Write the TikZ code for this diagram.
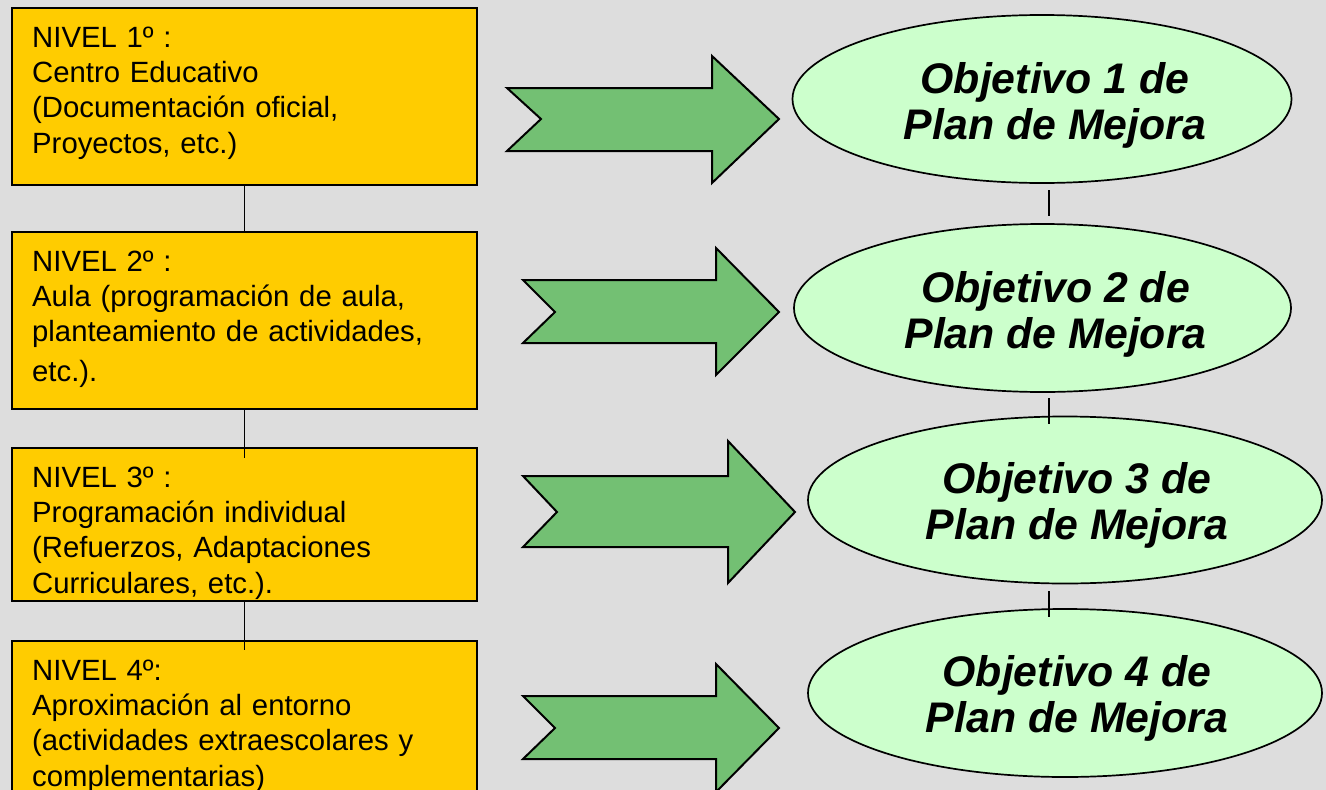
\documentclass[tikz,border=0pt]{standalone}
\usepackage{fontspec}
\setmainfont{Liberation Sans}
\usetikzlibrary{shapes.geometric,calc}
\definecolor{bgc}{RGB}{221,221,221}
\definecolor{boxc}{RGB}{255,204,0}
\definecolor{arrc}{RGB}{115,192,115}
\definecolor{ellc}{RGB}{204,255,204}
\tikzset{
  lvlbox/.style={draw=black, line width=2pt, fill=boxc, rectangle, anchor=north west, inner sep=0pt, minimum width=465pt},
  lvltext/.style={anchor=base west, inner sep=0pt, align=left, text width=440pt, font=\fontsize{29.3}{35.4}\selectfont},
  bigarrow/.style={draw=black, line width=2pt, fill=arrc, line join=miter},
  objell/.style={ellipse, draw=black, line width=1.7pt, fill=ellc, inner sep=0pt},
  objtext/.style={align=center, inner sep=0pt, font=\fontsize{42.8}{46}\selectfont\bfseries\itshape},
  conn/.style={draw=black, line width=1.5pt}
}
\begin{document}
\begin{tikzpicture}[x=1pt,y=-1pt]
\path[fill=bgc] (0,0) rectangle (1326,790);
\useasboundingbox (0,0) rectangle (1326,790);
\clip (0,0) rectangle (1326,790);

% level boxes
\node[lvlbox, minimum height=177pt] (b1) at (11,7) {};
\node[lvlbox, minimum height=177pt] (b2) at (11,231) {};
\node[lvlbox, minimum height=153pt] (b3) at (11,447) {};
\node[lvlbox, minimum height=180pt] (b4) at (11,640) {};

\node[lvltext] (t1) at (32,47) {NIVEL 1º :\\Centro Educativo\\(Documentación oficial,\\Proyectos, etc.)};
\node[lvltext] (t2) at (32,271) {NIVEL 2º :\\Aula (programación de aula,\\planteamiento de actividades,\\[4.5pt]etc.).};
\node[lvltext] (t3) at (32,487) {NIVEL 3º :\\Programación individual\\(Refuerzos, Adaptaciones\\Curriculares, etc.).};
\node[lvltext] (t4) at (32,680) {NIVEL 4º:\\Aproximación al entorno\\(actividades extraescolares y\\complementarias)};

% connectors between boxes
\coordinate (c23) at ($(b2.south)+(0,48)$);
\coordinate (c34) at ($(b3.south)+(0,48)$);
\draw[conn] (b1.south) -- (b2.north);
\draw[conn] (b2.south) -- (c23);
\draw[conn] (b3.south) -- (c34);

% big arrows
\draw[bigarrow] (507,88) -- (712,88) -- (712,56) -- (779,119) -- (712,183) -- (712,151) -- (507,151) -- (541,119) -- cycle;
\draw[bigarrow] (523,280) -- (716,280) -- (716,248) -- (779,312) -- (716,375) -- (716,343) -- (523,343) -- (555,312) -- cycle;
\draw[bigarrow] (523,476) -- (728,476) -- (728,441) -- (795,512) -- (728,583) -- (728,547) -- (523,547) -- (557,512) -- cycle;
\draw[bigarrow] (523,696) -- (716,696) -- (716,664) -- (779,728) -- (716,792) -- (716,759) -- (523,759) -- (555,728) -- cycle;

% objective ellipses
\node[objell, minimum width=499pt, minimum height=168pt] (e1) at (1042,99) {};
\node[objell, minimum width=497pt, minimum height=168pt] (e2) at (1042.5,308) {};
\node[objell, minimum width=514pt, minimum height=167pt] (e3) at (1065,500) {};
\node[objell, minimum width=514pt, minimum height=168pt] (e4) at (1065,693) {};

\node[objtext] (o1) at ($(e1.center)+(13,6)$) {Objetivo 1 de\\Plan de Mejora};
\node[objtext] (o2) at ($(e2.center)+(13,6)$) {Objetivo 2 de\\Plan de Mejora};
\node[objtext] (o3) at ($(e3.center)+(12,5)$) {Objetivo 3 de\\Plan de Mejora};
\node[objtext] (o4) at ($(e4.center)+(12,5)$) {Objetivo 4 de\\Plan de Mejora};

% connectors between ellipses
\coordinate (d1a) at (1049,190);
\coordinate (d1b) at (1049,216);
\coordinate (d2a) at (1049,398);
\coordinate (d2b) at (1049,424);
\coordinate (d3a) at (1049,591);
\coordinate (d3b) at (1049,617);
\draw[conn] (d1a) -- (d1b);
\draw[conn] (d2a) -- (d2b);
\draw[conn] (d3a) -- (d3b);
\end{tikzpicture}
\end{document}
